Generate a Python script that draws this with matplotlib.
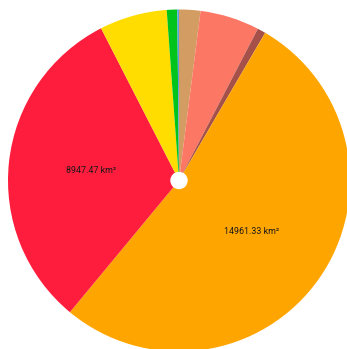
import matplotlib
matplotlib.use("Agg")
import matplotlib.pyplot as plt

# Area per land-cover class (km²), clockwise from 12 o'clock
areas = [573.2, 1596.4, 221.5, 14961.33, 8947.47, 1815.6, 281.3, 45.2]
colors = ["#D39C62", "#FD7864", "#A5514A", "#FFA500",
          "#FF1D3D", "#FFDD00", "#00C41C", "#5A9FE0"]
# only the two largest classes carry a value label
shown = [False, False, False, True, True, False, False, False]
labels = [f"{a:.2f} km²" if s else "" for a, s in zip(areas, shown)]

W, H = 347, 349
fig = plt.figure(figsize=(W / 100, H / 100), dpi=100)
ax = fig.add_axes([0, 0, 1, 1])

cx, cy, r = 179, H - 180.5, 171
wedges, texts = ax.pie(
    areas, colors=colors, labels=labels, startangle=90, counterclock=False,
    center=(cx, cy), radius=r, labeldistance=0.52, frame=True,
    wedgeprops=dict(linewidth=0),
    textprops=dict(fontsize=6.4, family="Roboto", color="#1a1a1a",
                   ha="center", va="center"),
)
ax.set_xlim(0, W)
ax.set_ylim(0, H)
ax.set_aspect("equal")
ax.axis("off")
ax.add_patch(plt.Circle((cx, cy), 8, color="white", zorder=5))

fig.savefig("out.png", dpi=100)
